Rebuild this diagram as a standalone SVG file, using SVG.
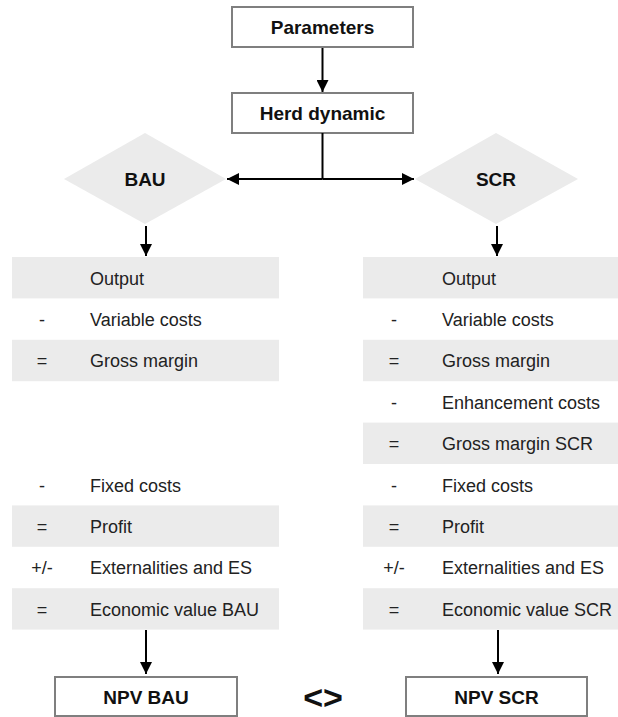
<svg xmlns="http://www.w3.org/2000/svg" width="618" height="717" viewBox="0 0 618 717">
<style>
.box{fill:#fff;stroke:#7f7f7f;stroke-width:2}
.dia{fill:#ebebeb}
.row{fill:#ebebeb}
.b{font-family:"Liberation Sans",Arial,sans-serif;font-weight:bold;font-size:19px;fill:#111;text-anchor:middle}
.t{font-family:"Liberation Sans",Arial,sans-serif;font-size:18px;fill:#222}
.s{font-family:"Liberation Sans",Arial,sans-serif;font-size:18px;fill:#222;text-anchor:middle}
.ln{stroke:#000;stroke-width:2;fill:none}
</style>
<defs>
<marker id="ah" markerUnits="userSpaceOnUse" markerWidth="12" markerHeight="12" viewBox="0 0 12 12" refX="12" refY="6" orient="auto">
<path d="M0,0 L12,6 L0,12 Z" fill="#000"/>
</marker>
</defs>
<g id="parameters">
<rect class="box" x="232" y="7" width="181" height="40"/>
<text class="b" x="322.5" y="34">Parameters</text>
</g>
<g id="herd">
<rect class="box" x="232" y="93" width="181" height="40"/>
<text class="b" x="322.5" y="120">Herd dynamic</text>
</g>
<g id="bau">
<polygon class="dia" points="64,179 145,133 226,179 145,224"/>
<text class="b" x="145" y="186">BAU</text>
</g>
<g id="scr">
<polygon class="dia" points="415,179 496,133 578,179 496,224"/>
<text class="b" x="496" y="186">SCR</text>
</g>
<g id="table-bau">
<rect class="row" x="12" y="257" width="267" height="41.4"/>
<rect class="row" x="12" y="339.8" width="267" height="41.4"/>
<rect class="row" x="12" y="505.4" width="267" height="41.4"/>
<rect class="row" x="12" y="588.2" width="267" height="41.4"/>
<text class="t" x="90" y="284.5">Output</text>
<text class="s" x="42" y="325.9">-</text><text class="t" x="90" y="325.9">Variable costs</text>
<text class="s" x="42" y="367.3">=</text><text class="t" x="90" y="367.3">Gross margin</text>
<text class="s" x="42" y="491.5">-</text><text class="t" x="90" y="491.5">Fixed costs</text>
<text class="s" x="42" y="532.9">=</text><text class="t" x="90" y="532.9">Profit</text>
<text class="s" x="42" y="574.3">+/-</text><text class="t" x="90" y="574.3">Externalities and ES</text>
<text class="s" x="42" y="615.7">=</text><text class="t" x="90" y="615.7">Economic value BAU</text>
</g>
<g id="table-scr">
<rect class="row" x="363" y="257" width="267" height="41.4"/>
<rect class="row" x="363" y="339.8" width="267" height="41.4"/>
<rect class="row" x="363" y="422.6" width="267" height="41.4"/>
<rect class="row" x="363" y="505.4" width="267" height="41.4"/>
<rect class="row" x="363" y="588.2" width="267" height="41.4"/>
<text class="t" x="442" y="284.5">Output</text>
<text class="s" x="394" y="325.9">-</text><text class="t" x="442" y="325.9">Variable costs</text>
<text class="s" x="394" y="367.3">=</text><text class="t" x="442" y="367.3">Gross margin</text>
<text class="s" x="394" y="408.7">-</text><text class="t" x="442" y="408.7">Enhancement costs</text>
<text class="s" x="394" y="450.1">=</text><text class="t" x="442" y="450.1">Gross margin SCR</text>
<text class="s" x="394" y="491.5">-</text><text class="t" x="442" y="491.5">Fixed costs</text>
<text class="s" x="394" y="532.9">=</text><text class="t" x="442" y="532.9">Profit</text>
<text class="s" x="394" y="574.3">+/-</text><text class="t" x="442" y="574.3">Externalities and ES</text>
<text class="s" x="394" y="615.7">=</text><text class="t" x="442" y="615.7">Economic value SCR</text>
</g>
<g id="npv-bau">
<rect class="box" x="55" y="677" width="182" height="39"/>
<text class="b" x="146" y="704">NPV BAU</text>
</g>
<g id="npv-scr">
<rect class="box" x="406" y="677" width="181" height="39"/>
<text class="b" x="496.5" y="704">NPV SCR</text>
</g>
<g id="compare">
<text class="b" x="323" y="709" style="font-size:34px">&lt;&gt;</text>
</g>
<g id="connectors">
<line class="ln" x1="322.5" y1="48" x2="322.5" y2="92" marker-end="url(#ah)"/>
<line class="ln" x1="322.5" y1="133" x2="322.5" y2="179"/>
<line class="ln" x1="322.5" y1="179" x2="227" y2="179" marker-end="url(#ah)"/>
<line class="ln" x1="322.5" y1="179" x2="414" y2="179" marker-end="url(#ah)"/>
<line class="ln" x1="146" y1="226" x2="146" y2="256" marker-end="url(#ah)"/>
<line class="ln" x1="497" y1="226" x2="497" y2="256" marker-end="url(#ah)"/>
<line class="ln" x1="146" y1="630" x2="146" y2="674" marker-end="url(#ah)"/>
<line class="ln" x1="498" y1="630" x2="498" y2="674" marker-end="url(#ah)"/>
</g>
</svg>
